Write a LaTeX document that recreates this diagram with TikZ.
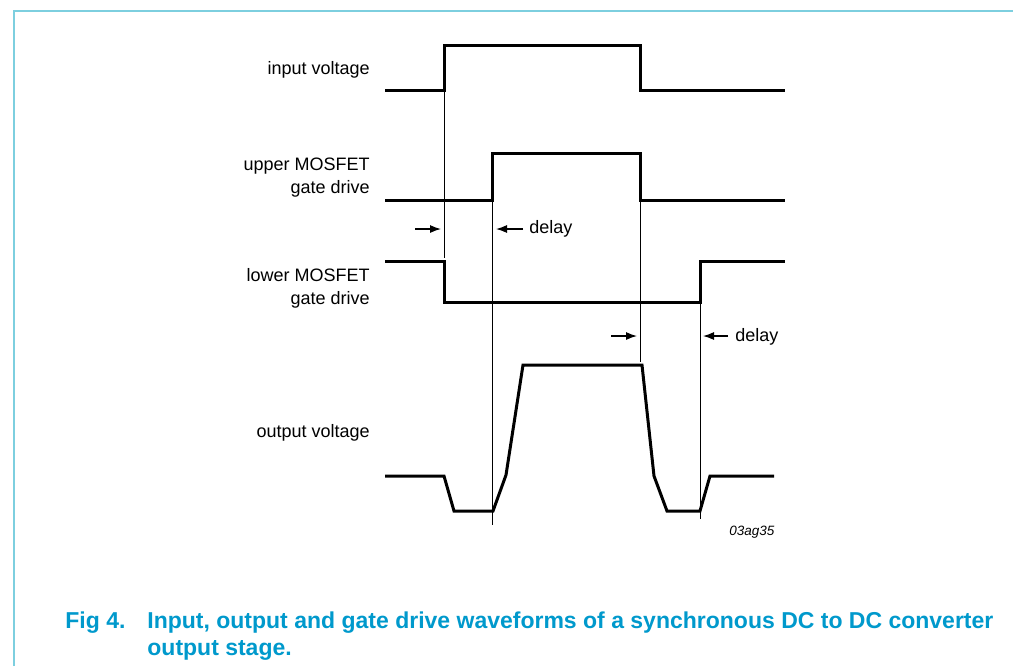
\documentclass[tikz,border=0pt]{standalone}
\usepackage{fontspec}
\setmainfont{Liberation Sans}
\usetikzlibrary{arrows.meta}
\definecolor{framecyan}{RGB}{125,207,223}
\definecolor{captionblue}{RGB}{0,153,204}
\tikzset{
  wave/.style={line width=1.5pt,line join=miter},
  marker/.style={line width=0.5pt},
  sig/.style={anchor=base east,align=right,inner sep=0pt,font=\fontsize{9}{11.5}\selectfont},
  dly/.style={line width=0.6pt,-{Latex[length=5.5pt,width=4pt]}},
  dlytext/.style={anchor=base west,inner sep=0pt,font=\fontsize{9}{11.5}\selectfont},
  captext/.style={anchor=base west,inner sep=0pt,text=captionblue,font=\fontsize{11.5}{13.5}\selectfont\bfseries}
}
\begin{document}
\begin{tikzpicture}[x=0.5pt,y=-0.5pt]
        \useasboundingbox (0,0) rectangle (1013,666);
        % frame
        \draw[framecyan,line width=1pt] (14,666) -- (14,11) -- (1013,11);
        % labels
        \node[sig] (vin) at (370,74) {input voltage};
        \node[sig] (upper) at (370,193) {upper MOSFET\\gate drive};
        \node[sig] (lower) at (370,304) {lower MOSFET\\gate drive};
        \node[sig] (vout) at (370,437) {output voltage};
        % waveforms
        \draw[wave] (385,90) -- (444,90) -- (444,45) -- (640,45) -- (640,90) -- (785,90);
        \draw[wave] (385,200) -- (492,200) -- (492,153) -- (640,153) -- (640,200) -- (785,200);
        \draw[wave] (385,261) -- (444,261) -- (444,302) -- (700,302) -- (700,261) -- (785,261);
        \draw[wave] (385,476) -- (444,476) -- (454,511) -- (493,511) -- (506,475) -- (523,365)
            -- (642,365) -- (654,476) -- (667,511) -- (700,511) -- (710,476) -- (774,476);
        % timing markers
        \coordinate (m1a) at (444,90);  \coordinate (m1b) at (444,258);
        \coordinate (m2a) at (492,200); \coordinate (m2b) at (492,525);
        \coordinate (m3a) at (640,200); \coordinate (m3b) at (640,362);
        \coordinate (m4a) at (700,261); \coordinate (m4b) at (700,519);
        \draw[marker] (m1a) -- (m1b);
        \draw[marker] (m2a) -- (m2b);
        \draw[marker] (m3a) -- (m3b);
        \draw[marker] (m4a) -- (m4b);
        % delays
        \coordinate (d1) at (415,229); \coordinate (d2) at (523,229);
        \coordinate (d3) at (611,336); \coordinate (d4) at (728,336);
        \draw[dly] (d1) -- (441,229);
        \draw[dly] (d2) -- (496,229);
        \draw[dly] (d3) -- (637,336);
        \draw[dly] (d4) -- (703,336);
        \node[dlytext] (delay1) at (529,233) {delay};
        \node[dlytext] (delay2) at (735,341) {delay};
        \node[anchor=base west,inner sep=0pt,font=\fontsize{6.75}{8}\selectfont\itshape] (code) at (729,535) {03ag35};
        % caption
        \node[captext] (fig) at (65,628) {Fig 4.};
        \node[captext] (cap1) at (147,628) {Input, output and gate drive waveforms of a synchronous DC to DC converter};
        \node[captext] (cap2) at (147,655) {output stage.};
    \end{tikzpicture}
\end{document}
